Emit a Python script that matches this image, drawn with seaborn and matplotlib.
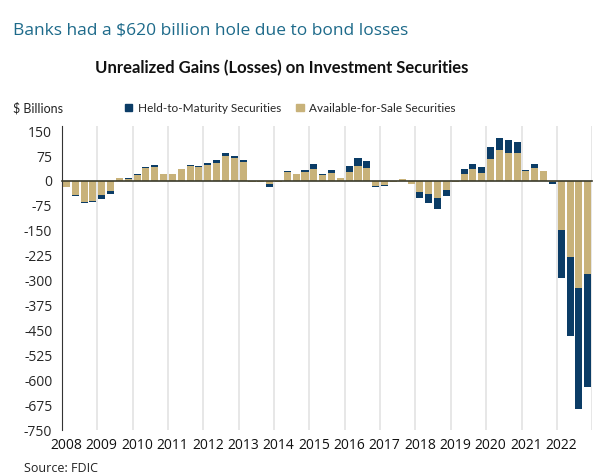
import numpy as np
import pandas as pd
import matplotlib
matplotlib.use('Agg')
import matplotlib.pyplot as plt
from matplotlib.patches import Patch
import seaborn as sns

sns.set_style("white")
plt.rcParams['font.family'] = ['Open Sans', 'DejaVu Sans']

# ── DATA ($ billions, quarterly 2008Q1 - 2022Q4) ─────────────
years = list(range(2008, 2023))
afs = [-18, -42, -64, -60,
       -42, -31, 8, 6,
       19, 38, 43, 21,
       22, 36, 46, 43,
       48, 55, 75, 68,
       58, -2, -2, -8,
       -3, 28, 22, 27,
       35, 17, 24, 8,
       27, 45, 40, -14,
       -12, -3, 7, -8,
       -33, -40, -52, -27,
       -3, 22, 35, 25,
       65, 92, 85, 83,
       31, 40, 30, -2,
       -148, -228, -322, -280]
htm = [0, -3, -3, -3,
       -11, -7, 2, 2,
       1, 4, 4, 1,
       0, 1, 3, 2,
       5, 8, 8, 7,
       5, -1, -2, -9,
       -1, 2, 0, 7,
       15, 3, 8, 0,
       18, 23, 20, -4,
       -2, 0, 0, -2,
       -19, -25, -31, -18,
       0, 13, 17, 18,
       38, 38, 38, 35,
       2, 10, 0, -6,
       -144, -239, -365, -340]
yticks = list(range(-750, 151, 75))

HTM_COLOR = '#0b3c66'
AFS_COLOR = '#c8b27a'

df = pd.DataFrame({
    'quarter': [f'{y}Q{q}' for y in years for q in range(1, 5)],
    'afs': afs,
    'htm': htm,
})
# HTM stacks on AFS when both have the same sign, otherwise starts at zero
same = np.sign(df['afs']) == np.sign(df['htm'])
df['outer'] = np.where(same, df['afs'] + df['htm'], df['htm'])

fig = plt.figure(figsize=(6, 4.74), dpi=100)
ax = fig.add_axes([0.1033, 0.0928, 0.8837, 0.641])

sns.barplot(data=df, x='quarter', y='outer', color=HTM_COLOR, saturation=1,
            width=0.8, errorbar=None, linewidth=0, ax=ax)
sns.barplot(data=df, x='quarter', y='afs', color=AFS_COLOR, saturation=1,
            width=0.8, errorbar=None, linewidth=0, ax=ax)

ax.set_xlim(-0.5, len(df) - 0.5)
ax.set_ylim(-750, 165)
ax.set_yticks(yticks)
ax.set_yticklabels([str(v) for v in yticks], fontsize=10)
ax.set_xlabel('')
ax.set_ylabel('')

# year boundaries: light vertical grid + small ticks on the zero line
bounds = [4 * k - 0.5 for k in range(1, len(years) + 1)]
for b in bounds:
    ax.axvline(b, color='#e3e3e3', linewidth=1.2, zorder=0)
ax.set_xticks(bounds[:-1])
ax.set_xticklabels([])
ax.tick_params(axis='x', direction='out', length=3, width=0.8, color='#333333')
ax.tick_params(axis='y', direction='out', length=4, width=0.8, color='#333333', pad=3)

ax.spines['bottom'].set_position(('data', 0))
ax.spines['bottom'].set_color('#3a3a2a')
ax.spines['bottom'].set_linewidth(1.2)
ax.spines['bottom'].set_zorder(5)
ax.spines['left'].set_color('#333333')
ax.spines['top'].set_visible(False)
ax.spines['right'].set_visible(False)

for k, y in enumerate(years):
    ax.text(4 * k, -0.025, str(y), transform=ax.get_xaxis_transform(),
            ha='center', va='top', fontsize=10, color='#111111')

# ── TEXT ──────────────────────────────────────────────────
fig.text(0.022, 0.935, 'Banks had a $620 billion hole due to bond losses',
         fontsize=12.5, color='#1d6a8a', ha='left', va='center')
fig.text(0.47, 0.857, 'Unrealized Gains (Losses) on Investment Securities',
         fontsize=12, fontweight='bold', color='#111111', ha='center',
         va='center', family=['Lato', 'DejaVu Sans'])
fig.text(0.022, 0.772, '$ Billions', fontsize=9, color='#222222',
         ha='left', va='center', family=['Lato', 'DejaVu Sans'])
handles = [Patch(color=HTM_COLOR, label='Held-to-Maturity Securities'),
           Patch(color=AFS_COLOR, label='Available-for-Sale Securities')]
fig.legend(handles=handles, loc='center', bbox_to_anchor=(0.484, 0.772),
           ncol=2, frameon=False, handlelength=0.6,
           handleheight=0.6, handletextpad=0.5, columnspacing=1.3,
           prop={'family': 'Lato', 'size': 8.5})
fig.text(0.04, 0.012, 'Source: FDIC', fontsize=9, color='#222222',
         ha='left', va='center')

fig.savefig('out.png', dpi=100)
